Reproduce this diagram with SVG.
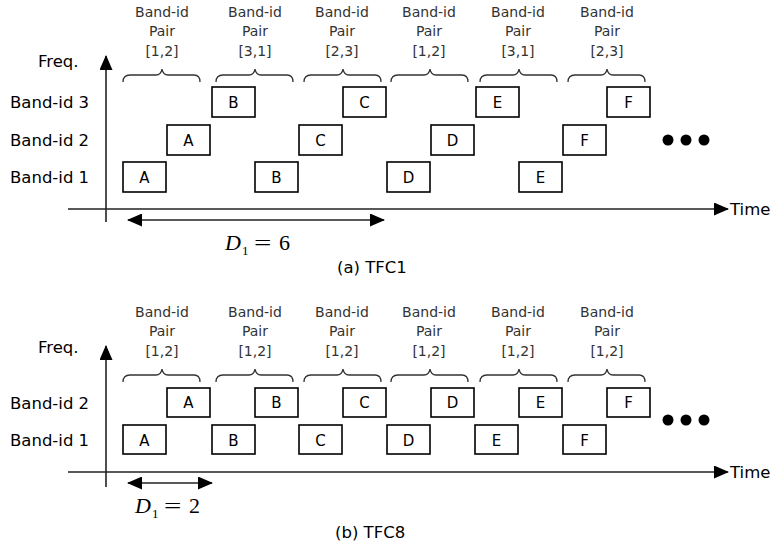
<svg xmlns="http://www.w3.org/2000/svg" width="775" height="548" viewBox="0 0 775 548">
<style>
.bx{fill:#fff;stroke:#000;stroke-width:1.6}
.bt{font-family:"DejaVu Sans",sans-serif;font-size:15px;fill:#000;text-anchor:middle}
.lb{font-family:"DejaVu Sans",sans-serif;font-size:16.5px;fill:#000}
.hd{font-family:"DejaVu Sans",sans-serif;font-size:14px;fill:#333;text-anchor:middle}
.br{fill:none;stroke:#333;stroke-width:1.3}
.ax{stroke:#222;stroke-width:1.6;fill:none}
.dm{font-family:"Liberation Serif",serif;font-size:22px;fill:#000}
.sub{font-family:"Liberation Serif",serif;font-size:13px;fill:#000}
.cap{font-family:"DejaVu Sans",sans-serif;font-size:16.5px;fill:#000}
</style>
<defs>
<marker id="ah" markerUnits="userSpaceOnUse" markerWidth="15" markerHeight="13" refX="14" refY="6.5" orient="auto-start-reverse">
<path d="M0,0 L15,6.5 L0,13 z" fill="#000"/>
</marker>
<path id="brace" d="M0,8 Q0,1 7,1 L33,1 Q38,1 39,-5 Q40,1 45,1 L71,1 Q77,1 77,8"/>
</defs>

<g id="connectors">
<line class="ax" x1="106" y1="222" x2="106" y2="56" marker-end="url(#ah)"/>
<line class="ax" x1="68" y1="209" x2="728" y2="209" marker-end="url(#ah)"/>
<line class="ax" x1="128" y1="220" x2="384" y2="220" marker-start="url(#ah)" marker-end="url(#ah)"/>
<line class="ax" x1="106" y1="487" x2="106" y2="346" marker-end="url(#ah)"/>
<line class="ax" x1="68" y1="472" x2="728" y2="472" marker-end="url(#ah)"/>
<line class="ax" x1="128" y1="483" x2="212" y2="483" marker-start="url(#ah)" marker-end="url(#ah)"/>
</g>

<g id="panel-a">
<text class="lb" x="38" y="67">Freq.</text>
<text class="lb" x="10" y="108">Band-id 3</text>
<text class="lb" x="10" y="146">Band-id 2</text>
<text class="lb" x="10" y="183">Band-id 1</text>
<text class="lb" x="730" y="215">Time</text>

<g id="a-headers">
<g class="hd"><text x="162" y="17">Band-id</text><text x="162" y="36">Pair</text><text x="162" y="56">[1,2]</text></g>
<g class="hd"><text x="255" y="17">Band-id</text><text x="255" y="36">Pair</text><text x="255" y="56">[3,1]</text></g>
<g class="hd"><text x="342" y="17">Band-id</text><text x="342" y="36">Pair</text><text x="342" y="56">[2,3]</text></g>
<g class="hd"><text x="429" y="17">Band-id</text><text x="429" y="36">Pair</text><text x="429" y="56">[1,2]</text></g>
<g class="hd"><text x="518" y="17">Band-id</text><text x="518" y="36">Pair</text><text x="518" y="56">[3,1]</text></g>
<g class="hd"><text x="607" y="17">Band-id</text><text x="607" y="36">Pair</text><text x="607" y="56">[2,3]</text></g>
</g>
<g id="a-braces" class="br">
<use href="#brace" x="123" y="74"/>
<use href="#brace" x="216" y="74"/>
<use href="#brace" x="304" y="74"/>
<use href="#brace" x="391" y="74"/>
<use href="#brace" x="480" y="74"/>
<use href="#brace" x="568" y="74"/>
</g>

<g id="a-A1"><rect class="bx" x="123" y="162" width="43" height="30"/><text class="bt" x="144.5" y="183">A</text></g>
<g id="a-A2"><rect class="bx" x="167" y="125" width="43" height="30"/><text class="bt" x="188.5" y="146">A</text></g>
<g id="a-B3"><rect class="bx" x="212" y="87" width="43" height="30"/><text class="bt" x="233.5" y="108">B</text></g>
<g id="a-B1"><rect class="bx" x="255" y="162" width="43" height="30"/><text class="bt" x="276.5" y="183">B</text></g>
<g id="a-C2"><rect class="bx" x="299" y="125" width="43" height="30"/><text class="bt" x="320.5" y="146">C</text></g>
<g id="a-C3"><rect class="bx" x="343" y="87" width="43" height="30"/><text class="bt" x="364.5" y="108">C</text></g>
<g id="a-D1"><rect class="bx" x="387" y="162" width="43" height="30"/><text class="bt" x="408.5" y="183">D</text></g>
<g id="a-D2"><rect class="bx" x="431" y="125" width="43" height="30"/><text class="bt" x="452.5" y="146">D</text></g>
<g id="a-E3"><rect class="bx" x="476" y="87" width="43" height="30"/><text class="bt" x="497.5" y="108">E</text></g>
<g id="a-E1"><rect class="bx" x="519" y="162" width="43" height="30"/><text class="bt" x="540.5" y="183">E</text></g>
<g id="a-F2"><rect class="bx" x="563" y="125" width="43" height="30"/><text class="bt" x="584.5" y="146">F</text></g>
<g id="a-F3"><rect class="bx" x="607" y="87" width="43" height="30"/><text class="bt" x="628.5" y="108">F</text></g>

<g id="a-dots" fill="#000"><circle cx="668" cy="140" r="5.5"/><circle cx="686" cy="140" r="5.5"/><circle cx="704" cy="140" r="5.5"/></g>
<g id="a-d1">
<text class="dm" x="225" y="250" font-style="italic">D</text>
<text class="sub" x="242" y="255">1</text>
<text class="dm" transform="translate(254,250) scale(1.4,1)">=</text>
<text class="dm" x="279" y="250">6</text>
</g>
<text class="cap" x="337" y="273">(a) TFC1</text>
</g>

<g id="panel-b">
<text class="lb" x="38" y="353">Freq.</text>
<text class="lb" x="10" y="409">Band-id 2</text>
<text class="lb" x="10" y="446">Band-id 1</text>
<text class="lb" x="730" y="478">Time</text>

<g id="b-headers">
<g class="hd"><text x="162" y="317">Band-id</text><text x="162" y="336">Pair</text><text x="162" y="356">[1,2]</text></g>
<g class="hd"><text x="255" y="317">Band-id</text><text x="255" y="336">Pair</text><text x="255" y="356">[1,2]</text></g>
<g class="hd"><text x="342" y="317">Band-id</text><text x="342" y="336">Pair</text><text x="342" y="356">[1,2]</text></g>
<g class="hd"><text x="429" y="317">Band-id</text><text x="429" y="336">Pair</text><text x="429" y="356">[1,2]</text></g>
<g class="hd"><text x="518" y="317">Band-id</text><text x="518" y="336">Pair</text><text x="518" y="356">[1,2]</text></g>
<g class="hd"><text x="607" y="317">Band-id</text><text x="607" y="336">Pair</text><text x="607" y="356">[1,2]</text></g>
</g>
<g id="b-braces" class="br">
<use href="#brace" x="123" y="374"/>
<use href="#brace" x="216" y="374"/>
<use href="#brace" x="304" y="374"/>
<use href="#brace" x="391" y="374"/>
<use href="#brace" x="480" y="374"/>
<use href="#brace" x="568" y="374"/>
</g>

<g id="b-A1"><rect class="bx" x="123" y="425" width="43" height="29"/><text class="bt" x="144.5" y="446">A</text></g>
<g id="b-A2"><rect class="bx" x="167" y="388" width="43" height="29"/><text class="bt" x="188.5" y="408">A</text></g>
<g id="b-B1"><rect class="bx" x="212" y="425" width="43" height="29"/><text class="bt" x="233.5" y="446">B</text></g>
<g id="b-B2"><rect class="bx" x="255" y="388" width="43" height="29"/><text class="bt" x="276.5" y="408">B</text></g>
<g id="b-C1"><rect class="bx" x="299" y="425" width="43" height="29"/><text class="bt" x="320.5" y="446">C</text></g>
<g id="b-C2"><rect class="bx" x="343" y="388" width="43" height="29"/><text class="bt" x="364.5" y="408">C</text></g>
<g id="b-D1"><rect class="bx" x="387" y="425" width="43" height="29"/><text class="bt" x="408.5" y="446">D</text></g>
<g id="b-D2"><rect class="bx" x="431" y="388" width="43" height="29"/><text class="bt" x="452.5" y="408">D</text></g>
<g id="b-E1"><rect class="bx" x="475" y="425" width="43" height="29"/><text class="bt" x="496.5" y="446">E</text></g>
<g id="b-E2"><rect class="bx" x="519" y="388" width="43" height="29"/><text class="bt" x="540.5" y="408">E</text></g>
<g id="b-F1"><rect class="bx" x="563" y="425" width="43" height="29"/><text class="bt" x="584.5" y="446">F</text></g>
<g id="b-F2"><rect class="bx" x="607" y="388" width="43" height="29"/><text class="bt" x="628.5" y="408">F</text></g>

<g id="b-dots" fill="#000"><circle cx="668" cy="420" r="5.5"/><circle cx="686" cy="420" r="5.5"/><circle cx="704" cy="420" r="5.5"/></g>
<g id="b-d1">
<text class="dm" x="135" y="513" font-style="italic">D</text>
<text class="sub" x="152" y="518">1</text>
<text class="dm" transform="translate(164,513) scale(1.4,1)">=</text>
<text class="dm" x="189" y="513">2</text>
</g>
<text class="cap" x="335" y="538">(b) TFC8</text>
</g>
</svg>
